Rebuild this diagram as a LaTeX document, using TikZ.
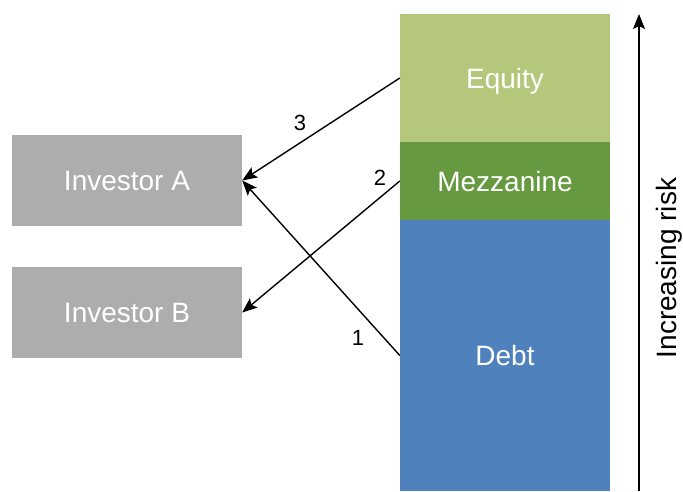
\documentclass[tikz,border=0pt]{standalone}
\usepackage{fontspec}
\setmainfont{Liberation Sans}
\usetikzlibrary{arrows.meta}
\definecolor{invgray}{RGB}{173,173,173}
\definecolor{eqgreen}{RGB}{181,199,122}
\definecolor{mezgreen}{RGB}{103,153,64}
\definecolor{debtblue}{RGB}{79,129,189}
\begin{document}
\begin{tikzpicture}[x=1pt,y=-1pt,
  box/.style={draw=none,inner sep=0pt,text=white,text depth=0pt,font=\fontsize{28}{31}\selectfont},
  flow/.style={line width=1.4pt,-{Stealth[length=15pt,width=12pt,inset=3pt]}},
  num/.style={font=\fontsize{22}{24}\selectfont,inner sep=0pt}]
\useasboundingbox (0,0) rectangle (683,491);
\node[box,fill=invgray,minimum width=230pt,minimum height=91pt] (invA) at (127,180.5) {Investor A};
\node[box,fill=invgray,minimum width=230pt,minimum height=91pt] (invB) at (127,312.5) {Investor B};
\node[box,fill=eqgreen,minimum width=210pt,minimum height=128pt] (equity) at (505,78) {Equity};
\node[box,fill=mezgreen,minimum width=210pt,minimum height=78pt] (mezz) at (505,181) {Mezzanine};
\node[box,fill=debtblue,minimum width=210pt,minimum height=271pt] (debt) at (505,355.5) {Debt};
\draw[flow] (equity.west) -- (invA.east);
\draw[flow] (mezz.west) -- (invB.east);
\draw[flow] (debt.west) -- (invA.east);
\node[num] (n3) at (300,123) {3};
\node[num] (n2) at (380,178) {2};
\node[num] (n1) at (358,338) {1};
\coordinate (rb) at (639,491);
\coordinate (rt) at (639,14);
\draw[line width=1.4pt,-{Stealth[length=15pt,width=12pt,inset=3pt]}] (rb) -- (rt);
\node[rotate=90,inner sep=0pt,text depth=0pt,font=\fontsize{28}{31}\selectfont] (risk) at (666,268) {Increasing risk};
\end{tikzpicture}
\end{document}
